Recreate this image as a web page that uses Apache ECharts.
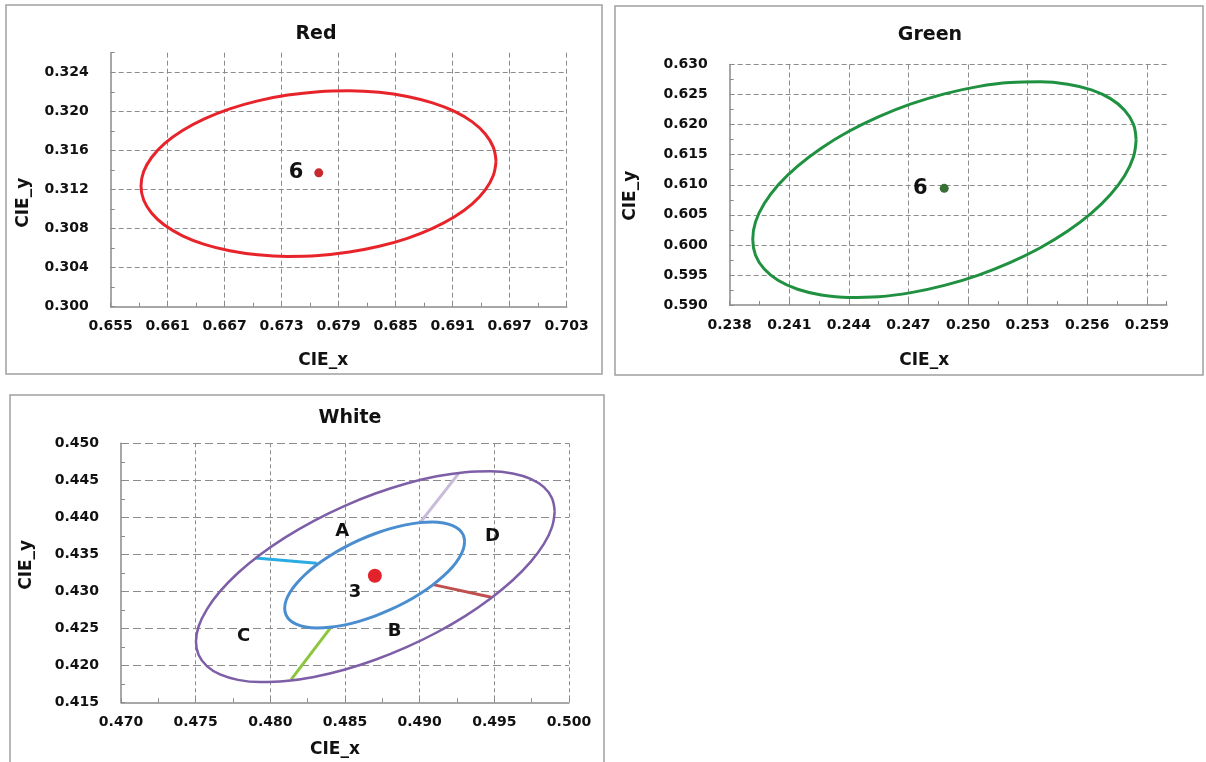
<!DOCTYPE html>
<html>
<head>
<meta charset="utf-8">
<script src="https://cdn.jsdelivr.net/npm/echarts@6/dist/echarts.min.js"></script>
<style>
html,body{margin:0;padding:0;background:#fff;}
#chart{width:1206px;height:762px;}
</style>
</head>
<body>
<div id="chart"></div>
<script>
// ---------- DATA ----------
const panelTitles = ['Red', 'Green', 'White'];
const xAxisTitle = 'CIE_x';
const yAxisTitle = 'CIE_y';

const redTicksX = [0.655, 0.661, 0.667, 0.673, 0.679, 0.685, 0.691, 0.697, 0.703];
const redTicksY = [0.300, 0.304, 0.308, 0.312, 0.316, 0.320, 0.324];
const greenTicksX = [0.238, 0.241, 0.244, 0.247, 0.250, 0.253, 0.256, 0.259];
const greenTicksY = [0.590, 0.595, 0.600, 0.605, 0.610, 0.615, 0.620, 0.625, 0.630];
const whiteTicksX = [0.470, 0.475, 0.480, 0.485, 0.490, 0.495, 0.500];
const whiteTicksY = [0.415, 0.420, 0.425, 0.430, 0.435, 0.440, 0.445, 0.450];

const redEllipse = [[0.69556,0.31489],[0.69527,0.31633],[0.69443,0.31768],[0.69306,0.31892],[0.69119,0.31999],[0.68888,0.32086],[0.68622,0.32152],[0.68326,0.32194],[0.68012,0.32210],[0.67687,0.32201],[0.67363,0.32166],[0.67048,0.32107],[0.66753,0.32025],[0.66486,0.31923],[0.66256,0.31804],[0.66069,0.31672],[0.65932,0.31530],[0.65847,0.31383],[0.65819,0.31236],[0.65847,0.31092],[0.65932,0.30956],[0.66069,0.30833],[0.66256,0.30726],[0.66486,0.30638],[0.66753,0.30573],[0.67048,0.30531],[0.67363,0.30515],[0.67687,0.30524],[0.68012,0.30559],[0.68326,0.30618],[0.68622,0.30700],[0.68888,0.30802],[0.69119,0.30921],[0.69306,0.31053],[0.69443,0.31195],[0.69527,0.31342]];
const redPoint = [0.6769, 0.3137];
const redPointLabel = '6';

const greenEllipse = [[0.25846,0.61746],[0.25832,0.62010],[0.25788,0.62241],[0.25717,0.62432],[0.25621,0.62577],[0.25502,0.62671],[0.25364,0.62712],[0.25211,0.62699],[0.25049,0.62632],[0.24881,0.62512],[0.24713,0.62344],[0.24551,0.62133],[0.24398,0.61885],[0.24261,0.61608],[0.24142,0.61310],[0.24045,0.61000],[0.23974,0.60687],[0.23930,0.60382],[0.23916,0.60092],[0.23930,0.59828],[0.23974,0.59597],[0.24045,0.59406],[0.24142,0.59262],[0.24261,0.59167],[0.24398,0.59126],[0.24551,0.59139],[0.24713,0.59206],[0.24881,0.59326],[0.25049,0.59494],[0.25211,0.59705],[0.25364,0.59953],[0.25502,0.60230],[0.25621,0.60528],[0.25717,0.60838],[0.25788,0.61151],[0.25832,0.61457]];
const greenPoint = [0.2488, 0.6094];
const greenPointLabel = '6';

const whiteOuter = [[0.49904,0.44077],[0.49886,0.44258],[0.49832,0.44408],[0.49743,0.44520],[0.49623,0.44593],[0.49475,0.44623],[0.49304,0.44610],[0.49114,0.44554],[0.48912,0.44457],[0.48703,0.44321],[0.48495,0.44152],[0.48292,0.43953],[0.48103,0.43732],[0.47931,0.43494],[0.47783,0.43247],[0.47663,0.42999],[0.47575,0.42757],[0.47520,0.42528],[0.47502,0.42320],[0.47520,0.42138],[0.47575,0.41989],[0.47663,0.41876],[0.47783,0.41803],[0.47931,0.41773],[0.48103,0.41787],[0.48292,0.41843],[0.48495,0.41940],[0.48703,0.42075],[0.48912,0.42245],[0.49114,0.42443],[0.49304,0.42665],[0.49475,0.42903],[0.49623,0.43149],[0.49743,0.43397],[0.49832,0.43640],[0.49886,0.43868]];
const whiteInner = [[0.49301,0.43671],[0.49292,0.43761],[0.49265,0.43834],[0.49221,0.43889],[0.49160,0.43924],[0.49086,0.43937],[0.49000,0.43928],[0.48905,0.43898],[0.48803,0.43847],[0.48699,0.43778],[0.48594,0.43691],[0.48493,0.43590],[0.48397,0.43478],[0.48311,0.43358],[0.48237,0.43234],[0.48177,0.43109],[0.48132,0.42988],[0.48105,0.42874],[0.48096,0.42770],[0.48105,0.42680],[0.48132,0.42607],[0.48177,0.42552],[0.48237,0.42518],[0.48311,0.42505],[0.48397,0.42513],[0.48493,0.42543],[0.48594,0.42594],[0.48699,0.42664],[0.48803,0.42751],[0.48905,0.42852],[0.49000,0.42964],[0.49086,0.43084],[0.49160,0.43208],[0.49221,0.43332],[0.49265,0.43454],[0.49292,0.43568]];
const whitePoint = [0.4870, 0.4321];
const segCyan = [[0.4790, 0.4345], [0.4831, 0.4338]];
const segRed = [[0.4909, 0.4309], [0.4948, 0.4292]];
const segGreen = [[0.4840, 0.4250], [0.4814, 0.4181]];
const segLilac = [[0.4900, 0.4392], [0.4926, 0.4459]];
const whiteLabelNames = ['3', 'A', 'B', 'C', 'D'];
const whiteLabelPos = [[0.48567, 0.42982], [0.48482, 0.43806], [0.48833, 0.42455], [0.47821, 0.42387], [0.49487, 0.43739]];

// ---------- STYLE ----------
const FONT = 'DejaVu Sans';
const AXIS_GRAY = '#8a8a8a';
const GRID_GRAY = '#8c8c8c';

function closed(arr) { return arr.concat([arr[0]]); }

function labelFmt(ticks) {
  return function (v) {
    for (const t of ticks) { if (Math.abs(t - v) < 1e-7) return t.toFixed(3); }
    return '';
  };
}

// main axis: labels + fine (minor) ticks ; grid axis: dashed split lines only
function mainAxis(gi, min, max, fine, ticks, isX, nameCfg) {
  return {
    type: 'value', gridIndex: gi, min: min, max: max, interval: fine,
    position: isX ? 'bottom' : 'left',
    name: nameCfg.text, nameLocation: 'middle', nameGap: nameCfg.gap,
    nameTextStyle: { fontFamily: FONT, fontWeight: 'bold', fontSize: 17, color: '#111', padding: nameCfg.padding },
    axisLine: { show: true, onZero: false, lineStyle: { color: AXIS_GRAY, width: 1.5 } },
    axisTick: { show: true, inside: true, length: 4, lineStyle: { color: AXIS_GRAY, width: 1 } },
    axisLabel: { show: true, formatter: labelFmt(ticks), margin: isX ? 13 : 22,
      fontFamily: FONT, fontWeight: 'bold', fontSize: 14, color: '#111',
      showMinLabel: true, showMaxLabel: true },
    splitLine: { show: false }
  };
}
function gridAxis(gi, min, max, major, isX, dash, showMax) {
  return {
    type: 'value', gridIndex: gi, min: min, max: max, interval: major,
    position: isX ? 'bottom' : 'left',
    axisLine: { show: false }, axisTick: { show: false }, axisLabel: { show: false },
    splitLine: { show: true, showMinLine: false, showMaxLine: showMax,
      lineStyle: { color: GRID_GRAY, width: 1, type: dash } }
  };
}

const chart = echarts.init(document.getElementById('chart'), null, { renderer: 'canvas' });

const titleStyle = { fontFamily: FONT, fontWeight: 'bold', fontSize: 19, color: '#111' };
const ptLabel = { fontFamily: FONT, fontWeight: 'bold', fontSize: 21, color: '#111' };

const option = {
  backgroundColor: '#ffffff',
  animation: false,
  title: [
    { text: panelTitles[0], left: 316, top: 25, padding: 0, textAlign: 'center', textStyle: titleStyle },
    { text: panelTitles[1], left: 930, top: 26, padding: 0, textAlign: 'center', textStyle: titleStyle },
    { text: panelTitles[2], left: 350, top: 409, padding: 0, textAlign: 'center', textStyle: titleStyle }
  ],
  grid: [
    { left: 110.7, top: 52.7, width: 456, height: 254 },
    { left: 729.7, top: 64.5, width: 437, height: 240.5 },
    { left: 121, top: 443.3, width: 448, height: 259 }
  ],
  xAxis: [
    mainAxis(0, 0.655, 0.703, 0.003, redTicksX, true, { text: xAxisTitle, gap: 45, padding: [0, 31, 0, 0] }),
    gridAxis(0, 0.655, 0.703, 0.006, true, [5, 3], true),
    mainAxis(1, 0.238, 0.260, 0.0015, greenTicksX, true, { text: xAxisTitle, gap: 47, padding: [0, 48, 0, 0] }),
    gridAxis(1, 0.238, 0.260, 0.003, true, [5, 3], false),
    mainAxis(2, 0.470, 0.500, 0.0025, whiteTicksX, true, { text: xAxisTitle, gap: 39, padding: [0, 20, 0, 0] }),
    gridAxis(2, 0.470, 0.500, 0.005, true, [4, 3], true)
  ],
  yAxis: [
    mainAxis(0, 0.300, 0.326, 0.002, redTicksY, false, { text: yAxisTitle, gap: 79, padding: [0, 46, 0, 0] }),
    gridAxis(0, 0.300, 0.326, 0.004, false, [5, 3], false),
    mainAxis(1, 0.590, 0.630, 0.0025, greenTicksY, false, { text: yAxisTitle, gap: 91, padding: [0, 22, 0, 0] }),
    gridAxis(1, 0.590, 0.630, 0.005, false, [5, 3], true),
    mainAxis(2, 0.415, 0.450, 0.0025, whiteTicksY, false, { text: yAxisTitle, gap: 86, padding: [0, 0, 0, 16] }),
    gridAxis(2, 0.415, 0.450, 0.005, false, [8, 4], true)
  ],
  graphic: [
    { type: 'rect', silent: true, z: -10, shape: { x: 6, y: 5, width: 596, height: 369 }, style: { fill: 'none', stroke: '#a0a0a0', lineWidth: 1.5 } },
    { type: 'rect', silent: true, z: -10, shape: { x: 615, y: 6, width: 588, height: 369 }, style: { fill: 'none', stroke: '#a0a0a0', lineWidth: 1.5 } },
    { type: 'rect', silent: true, z: -10, shape: { x: 10, y: 395, width: 594, height: 400 }, style: { fill: 'none', stroke: '#a0a0a0', lineWidth: 1.5 } }
  ],
  series: [
    { type: 'line', name: 'Red ellipse', xAxisIndex: 0, yAxisIndex: 0, data: closed(redEllipse), smooth: 0.4,
      showSymbol: false, lineStyle: { color: '#e8242b', width: 3 }, z: 3 },
    { type: 'scatter', name: 'Red point', xAxisIndex: 0, yAxisIndex: 0, data: [redPoint], symbolSize: 9,
      itemStyle: { color: '#c62a2f', opacity: 1 }, z: 4,
      label: Object.assign({ show: true, position: 'left', distance: 11, formatter: redPointLabel }, ptLabel) },

    { type: 'line', name: 'Green ellipse', xAxisIndex: 2, yAxisIndex: 2, data: closed(greenEllipse), smooth: 0.4,
      showSymbol: false, lineStyle: { color: '#1f9140', width: 3 }, z: 3 },
    { type: 'scatter', name: 'Green point', xAxisIndex: 2, yAxisIndex: 2, data: [greenPoint], symbolSize: 9,
      itemStyle: { color: '#3a6f35', opacity: 1 }, z: 4,
      label: Object.assign({ show: true, position: 'left', distance: 12, formatter: greenPointLabel }, ptLabel) },

    { type: 'line', name: 'White outer', xAxisIndex: 4, yAxisIndex: 4, data: closed(whiteOuter), smooth: 0.4,
      showSymbol: false, lineStyle: { color: '#7d5ea7', width: 2.5 }, z: 3 },
    { type: 'line', name: 'White inner', xAxisIndex: 4, yAxisIndex: 4, data: closed(whiteInner), smooth: 0.4,
      showSymbol: false, lineStyle: { color: '#4a8ed0', width: 3 }, z: 3 },
    { type: 'line', name: 'seg cyan', xAxisIndex: 4, yAxisIndex: 4, data: segCyan, showSymbol: false,
      lineStyle: { color: '#2aace2', width: 3 }, z: 2 },
    { type: 'line', name: 'seg red', xAxisIndex: 4, yAxisIndex: 4, data: segRed, showSymbol: false,
      lineStyle: { color: '#c0504d', width: 3 }, z: 2 },
    { type: 'line', name: 'seg green', xAxisIndex: 4, yAxisIndex: 4, data: segGreen, showSymbol: false,
      lineStyle: { color: '#8cc63e', width: 3 }, z: 2 },
    { type: 'line', name: 'seg lilac', xAxisIndex: 4, yAxisIndex: 4, data: segLilac, showSymbol: false,
      lineStyle: { color: '#c9bbda', width: 3 }, z: 2 },
    { type: 'scatter', name: 'White point', xAxisIndex: 4, yAxisIndex: 4, data: [whitePoint], symbolSize: 14,
      itemStyle: { color: '#e3232b', opacity: 1 }, z: 4 },
    { type: 'scatter', name: 'White labels', xAxisIndex: 4, yAxisIndex: 4,
      data: whiteLabelNames.map((n, i) => ({ name: n, value: whiteLabelPos[i] })),
      symbolSize: 0, itemStyle: { opacity: 1 }, z: 5,
      label: { show: true, position: 'inside', formatter: '{b}',
        fontFamily: FONT, fontWeight: 'bold', fontSize: 18, color: '#111' } }
  ]
};
chart.setOption(option);
</script>
</body>
</html>
